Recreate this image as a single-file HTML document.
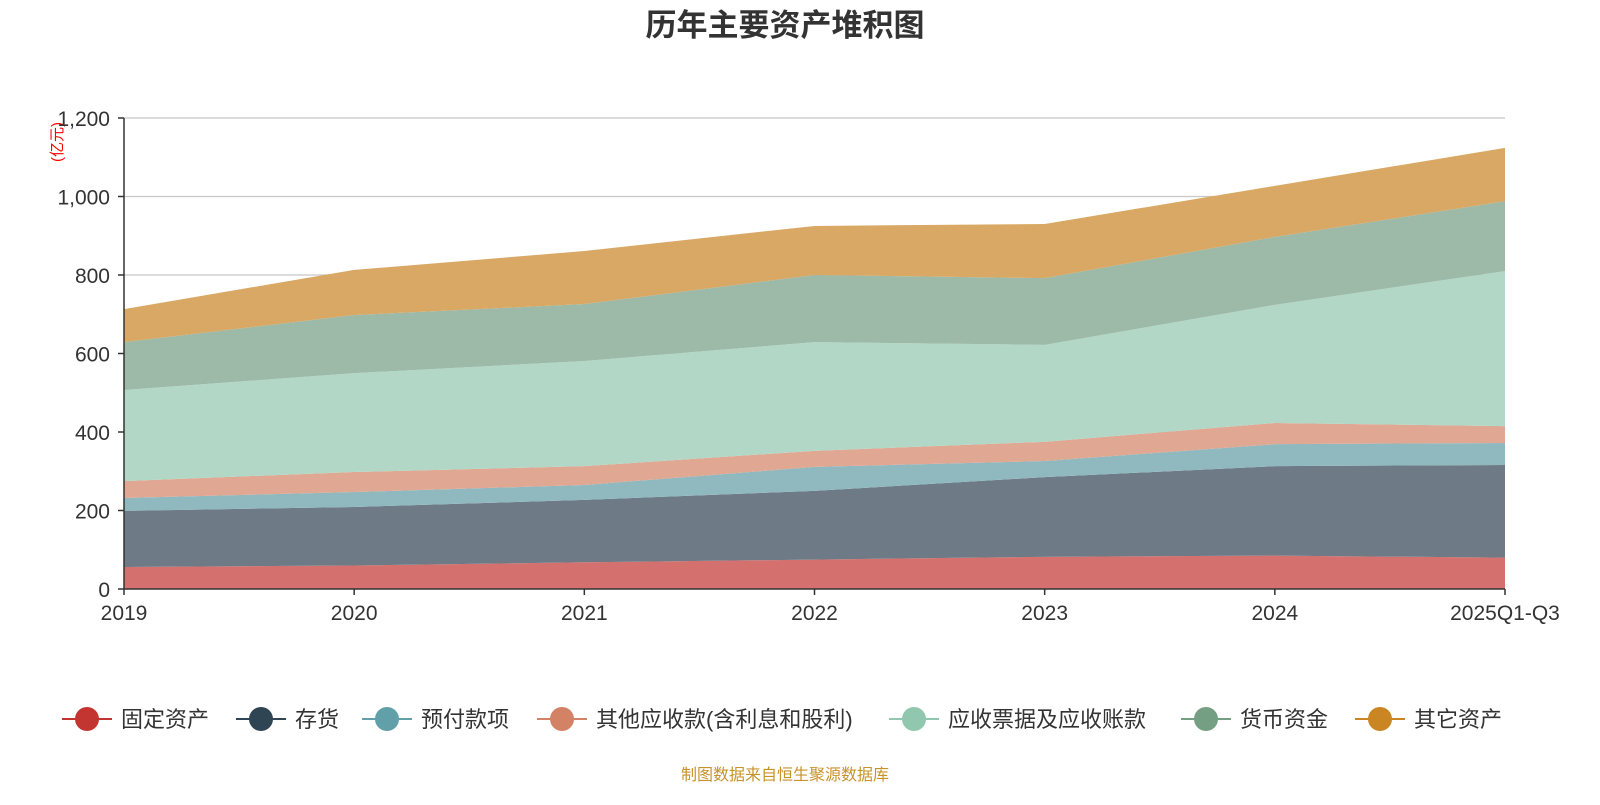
<!DOCTYPE html>
<html><head><meta charset="utf-8"><style>
body{margin:0;background:#fff;}
svg text{font-family:"Liberation Sans","Noto Sans CJK SC",sans-serif;}
</style></head><body>
<svg id="chart" width="1600" height="800" xmlns="http://www.w3.org/2000/svg">
<text x="785" y="36" text-anchor="middle" font-size="31" font-weight="bold" fill="#333">历年主要资产堆积图</text>
<text transform="translate(62,142) rotate(-90)" text-anchor="middle" font-size="15" fill="red">(亿元)</text>
<g id="grid"></g><g id="areas"></g><g id="axes"></g><g id="legend"></g>
<text x="785" y="780" text-anchor="middle" font-size="16" fill="#c8922a">制图数据来自恒生聚源数据库</text>
</svg>
<script>
const categories=["2019","2020","2021","2022","2023","2024","2025Q1-Q3"];
const seriesNames=["固定资产","存货","预付款项","其他应收款(含利息和股利)","应收票据及应收账款","货币资金","其它资产"];
const fixedAssets=[56,60,68,75,82,85,80];
const inventory=[143,149,159,175,203,228,236];
const prepaid=[33,38,38,61,41,56,56];
const otherRecv=[43,51,48,41,49,54,43];
const notesRecv=[232,252,268,277,247,301,395];
const cash=[122,148,145,171,170,173,178];
const otherAssets=[84,115,135,125,138,130,136];
const yTicks=[0,200,400,600,800,1000,1200];
const yTickLabels=["0","200","400","600","800","1,000","1,200"];
const seriesData=[fixedAssets,inventory,prepaid,otherRecv,notesRecv,cash,otherAssets];
const fills=["#d4706d","#6e7b87","#8fb9bf","#e0a793","#b2d7c6","#9db9a7","#d8a864"];
const legendColors=["#c23531","#2f4554","#61a0a8","#d48265","#91c7ae","#749f83","#ca8622"];
const NS="http://www.w3.org/2000/svg";
const x0=124,x1=1505,y0=589,yTop=118;
const xs=i=>x0+i*(x1-x0)/(categories.length-1);
const ys=v=>y0-v*(y0-yTop)/1200;
function mk(tag,attrs,parent){const e=document.createElementNS(NS,tag);for(const k in attrs)e.setAttribute(k,attrs[k]);parent.appendChild(e);return e;}
const grid=document.getElementById('grid'),areas=document.getElementById('areas'),axes=document.getElementById('axes'),legend=document.getElementById('legend');
yTicks.forEach((t,i)=>{
  if(t>0){const l=mk('line',{x1:x0,x2:x1,y1:ys(t),y2:ys(t),stroke:'#c8c8c8','stroke-width':1.3},grid);
  
  }
  const tk=mk('line',{x1:x0-6,x2:x0,y1:ys(t),y2:ys(t),stroke:'#333','stroke-width':1.5},axes);
  
  
  const tx=mk('text',{x:x0-14,y:ys(t)+8,'text-anchor':'end','font-size':21,fill:'#333'},axes);
  tx.textContent=yTickLabels[i];
  
  
});
let base=categories.map(()=>0);
seriesData.forEach((s,k)=>{
  const top=base.map((b,i)=>b+s[i]);
  let d='M'+top.map((v,i)=>xs(i)+','+ys(v)).join('L');
  for(let i=categories.length-1;i>=0;i--)d+='L'+xs(i)+','+ys(base[i]);
  const p=mk('path',{d:d+'Z',fill:fills[k]},areas);
  
  
  base=top;
});
const ya=mk('line',{x1:x0,x2:x0,y1:yTop,y2:y0,stroke:'#333','stroke-width':1.5},axes);


const xa=mk('line',{x1:x0,x2:x1,y1:y0,y2:y0,stroke:'#333','stroke-width':1.5},axes);


categories.forEach((c,i)=>{
  const tk=mk('line',{x1:xs(i),x2:xs(i),y1:y0,y2:y0+6,stroke:'#333','stroke-width':1.5},axes);
  
  
  const tx=mk('text',{x:xs(i),y:y0+31,'text-anchor':'middle','font-size':21,fill:'#333'},axes);
  tx.textContent=c;
  
  
});
const lx=[62,236,362,537,889,1181,1355];
seriesNames.forEach((n,k)=>{
  const g=mk('g',{},legend);
  
  
  mk('line',{x1:lx[k],x2:lx[k]+50,y1:719,y2:719,stroke:legendColors[k],'stroke-width':2},g);
  mk('circle',{cx:lx[k]+25,cy:719,r:12,fill:legendColors[k]},g);
  const t=mk('text',{x:lx[k]+59,y:727,'font-size':22,fill:'#333'},g);
  t.textContent=n;
});
</script>
</body></html>
